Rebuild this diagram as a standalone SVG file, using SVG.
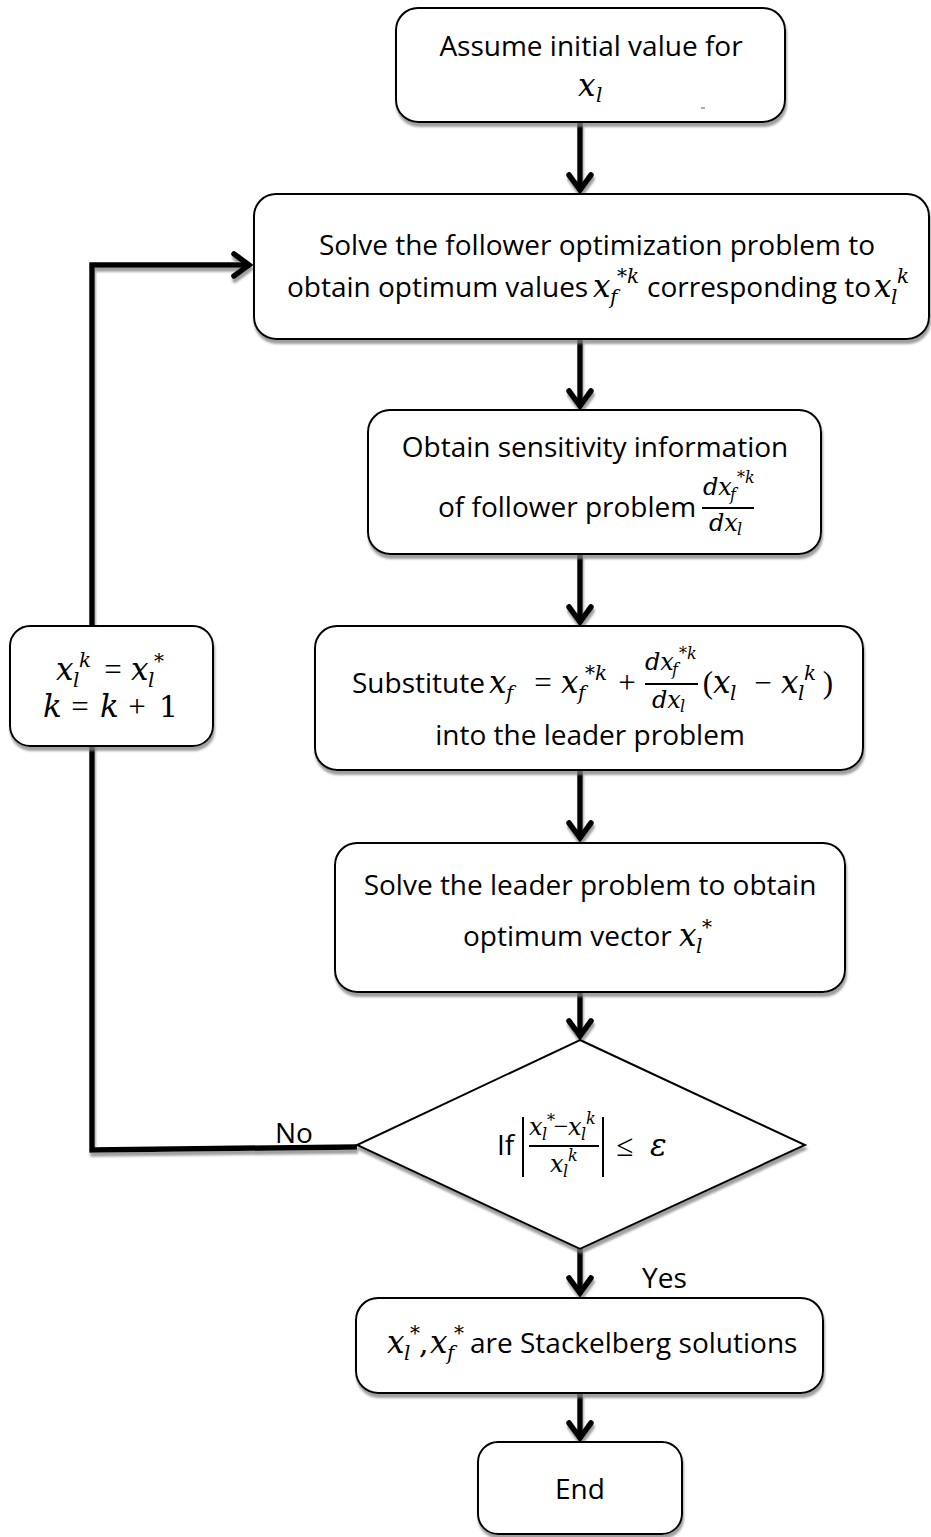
<svg xmlns="http://www.w3.org/2000/svg" width="931" height="1537" viewBox="0 0 931 1537">
<style>
.t{font-family:"Open Sans","Liberation Sans",sans-serif;font-size:28px;fill:#000}
.m{font-family:"DejaVu Serif","Liberation Serif",serif;font-style:italic;font-size:31px;fill:#000}
.mu{font-family:"DejaVu Serif","Liberation Serif",serif;font-size:30px;fill:#000}
.op{font-family:"Liberation Serif",serif;font-size:31px;fill:#000;text-anchor:middle}
.ms{font-family:"DejaVu Serif","Liberation Serif",serif;font-style:italic;font-size:20px;fill:#000}
.f22{font-family:"DejaVu Serif","Liberation Serif",serif;font-style:italic;font-size:24px;fill:#000}
.op22{font-family:"Liberation Serif",serif;font-size:26px;fill:#000;text-anchor:middle}
.f15{font-family:"DejaVu Serif","Liberation Serif",serif;font-style:italic;font-size:16px;fill:#000}
.box{fill:#fff;stroke:#000;stroke-width:2}
.ln{fill:none;stroke:#000;stroke-width:5.5}
.bar{stroke:#000;stroke-width:2}
</style>
<defs>
<filter id="sh" filterUnits="userSpaceOnUse" x="0" y="0" width="931" height="1537">
<feGaussianBlur in="SourceAlpha" stdDeviation="1"/>
<feOffset dx="1" dy="4" result="o"/>
<feFlood flood-color="#808080" flood-opacity="0.75"/>
<feComposite in2="o" operator="in"/>
<feMerge><feMergeNode/><feMergeNode in="SourceGraphic"/></feMerge>
</filter>
<marker id="ah" markerUnits="userSpaceOnUse" markerWidth="40" markerHeight="40" viewBox="-25 -20 40 40" refX="0" refY="0" orient="auto" overflow="visible">
<path d="M-16,-11 L-1,0 L-16,11" fill="none" stroke="#000" stroke-width="5.5" stroke-linecap="round" stroke-linejoin="miter"/>
</marker>
</defs>

<g id="connectors" filter="url(#sh)">
<path class="ln" d="M580,122 V191" marker-end="url(#ah)"/>
<path class="ln" d="M580,339 V407" marker-end="url(#ah)"/>
<path class="ln" d="M580,554 V623" marker-end="url(#ah)"/>
<path class="ln" d="M580,770 V839" marker-end="url(#ah)"/>
<path class="ln" d="M580,992 V1037" marker-end="url(#ah)"/>
<path class="ln" d="M580,1249 V1294" marker-end="url(#ah)"/>
<path class="ln" d="M580,1393 V1439" marker-end="url(#ah)"/>
<path class="ln" d="M357,1147 L92,1150 L92,265 L250,265" marker-end="url(#ah)"/>
</g>

<g id="n-start">
<rect class="box" x="396" y="8" width="389" height="114" rx="22" filter="url(#sh)"/>
<text class="t" x="591" y="56" text-anchor="middle">Assume initial value for</text>
<text class="m" x="578" y="96">x</text><text class="ms" x="596" y="102">l</text>
<line x1="701" y1="108" x2="705" y2="108" stroke="#555" stroke-width="1"/>
</g>

<g id="n-follower">
<rect class="box" x="254" y="194" width="675" height="145" rx="22" filter="url(#sh)"/>
<text class="t" x="597" y="255" text-anchor="middle">Solve the follower optimization problem to</text>
<text class="t" x="287" y="297">obtain optimum values</text>
<text class="m" x="593" y="297">x</text><text class="ms" x="610" y="304">f</text><text class="ms" x="617" y="283">*k</text>
<text class="t" x="647" y="297">corresponding to</text>
<text class="m" x="874" y="297">x</text><text class="ms" x="891" y="304">l</text><text class="ms" x="897" y="283">k</text>
</g>

<g id="n-sensitivity">
<rect class="box" x="368" y="410" width="453" height="144" rx="22" filter="url(#sh)"/>
<text class="t" x="595" y="457" text-anchor="middle">Obtain sensitivity information</text>
<text class="t" x="438" y="517">of follower problem</text>
<text class="f22" x="703" y="495">dx</text><text class="f15" x="730" y="500">f</text><text class="f15" x="737" y="483">*k</text>
<line class="bar" x1="702" y1="508" x2="754" y2="508"/>
<text class="f22" x="709" y="531">dx</text><text class="f15" x="737" y="535">l</text>
</g>

<g id="n-substitute">
<rect class="box" x="315" y="626" width="548" height="144" rx="22" filter="url(#sh)"/>
<text class="t" x="352" y="693">Substitute</text>
<text class="m" x="489" y="693">x</text><text class="ms" x="506" y="700">f</text>
<text class="op" x="543" y="693">=</text>
<text class="m" x="561" y="693">x</text><text class="ms" x="578" y="700">f</text><text class="ms" x="585" y="680">*k</text>
<text class="op" x="627" y="693">+</text>
<text class="f22" x="645" y="670">dx</text><text class="f15" x="672" y="675">f</text><text class="f15" x="679" y="659">*k</text>
<line class="bar" x1="645" y1="684" x2="698" y2="684"/>
<text class="f22" x="652" y="708">dx</text><text class="f15" x="680" y="712">l</text>
<text class="op" x="708" y="693">(</text>
<text class="m" x="713" y="693">x</text><text class="ms" x="730" y="700">l</text>
<text class="op" x="763" y="693">−</text>
<text class="m" x="781" y="693">x</text><text class="ms" x="798" y="700">l</text><text class="ms" x="804" y="680">k</text>
<text class="op" x="828" y="693">)</text>
<text class="t" x="590" y="745" text-anchor="middle">into the leader problem</text>
</g>

<g id="n-leader">
<rect class="box" x="335" y="843" width="510" height="149" rx="22" filter="url(#sh)"/>
<text class="t" x="590" y="895" text-anchor="middle">Solve the leader problem to obtain</text>
<text class="t" x="463" y="946">optimum vector</text>
<text class="m" x="679" y="946">x</text><text class="ms" x="696" y="953">l</text><text class="ms" x="702" y="934">*</text>
</g>

<g id="n-decision">
<polygon class="box" points="580,1040 805,1145 580,1249 357,1145" filter="url(#sh)"/>
<text class="t" x="497" y="1155">If</text>
<line class="bar" x1="523" y1="1117" x2="523" y2="1177"/>
<text class="f22" x="529" y="1135">x</text><text class="f15" x="542" y="1140">l</text><text class="f15" x="547" y="1126">*</text>
<text class="op22" x="561" y="1135">−</text>
<text class="f22" x="568" y="1135">x</text><text class="f15" x="581" y="1140">l</text><text class="f15" x="586" y="1124">k</text>
<line class="bar" x1="529" y1="1146" x2="599" y2="1146"/>
<text class="f22" x="550" y="1172">x</text><text class="f15" x="563" y="1177">l</text><text class="f15" x="568" y="1161">k</text>
<line class="bar" x1="603" y1="1117" x2="603" y2="1177"/>
<text class="op" x="625" y="1156">≤</text>
<text class="m" x="650" y="1156">ε</text>
</g>

<g id="n-update">
<rect class="box" x="10" y="626" width="203" height="120" rx="20" filter="url(#sh)"/>
<text class="m" x="56" y="680">x</text><text class="ms" x="73" y="687">l</text><text class="ms" x="79" y="667">k</text>
<text class="op" x="113" y="680">=</text>
<text class="m" x="131" y="680">x</text><text class="ms" x="148" y="687">l</text><text class="ms" x="154" y="668">*</text>
<text class="m" x="43" y="717">k</text>
<text class="op" x="80" y="717">=</text>
<text class="m" x="100" y="717">k</text>
<text class="op" x="137" y="717">+</text>
<text class="mu" x="159" y="717">1</text>
</g>

<g id="n-solution">
<rect class="box" x="356" y="1298" width="467" height="95" rx="22" filter="url(#sh)"/>
<text class="m" x="387" y="1353">x</text><text class="ms" x="404" y="1360">l</text><text class="ms" x="410" y="1340">*</text>
<text class="mu" x="419" y="1353">,</text>
<text class="m" x="430" y="1353">x</text><text class="ms" x="447" y="1360">f</text><text class="ms" x="454" y="1340">*</text>
<text class="t" x="470" y="1353">are Stackelberg solutions</text>
</g>

<g id="n-end">
<rect class="box" x="478" y="1442" width="204" height="92" rx="20" filter="url(#sh)"/>
<text class="t" x="580" y="1499" text-anchor="middle">End</text>
</g>

<g id="labels">
<text class="t" x="275" y="1143">No</text>
<text class="t" x="642" y="1288">Yes</text>
</g>
</svg>
